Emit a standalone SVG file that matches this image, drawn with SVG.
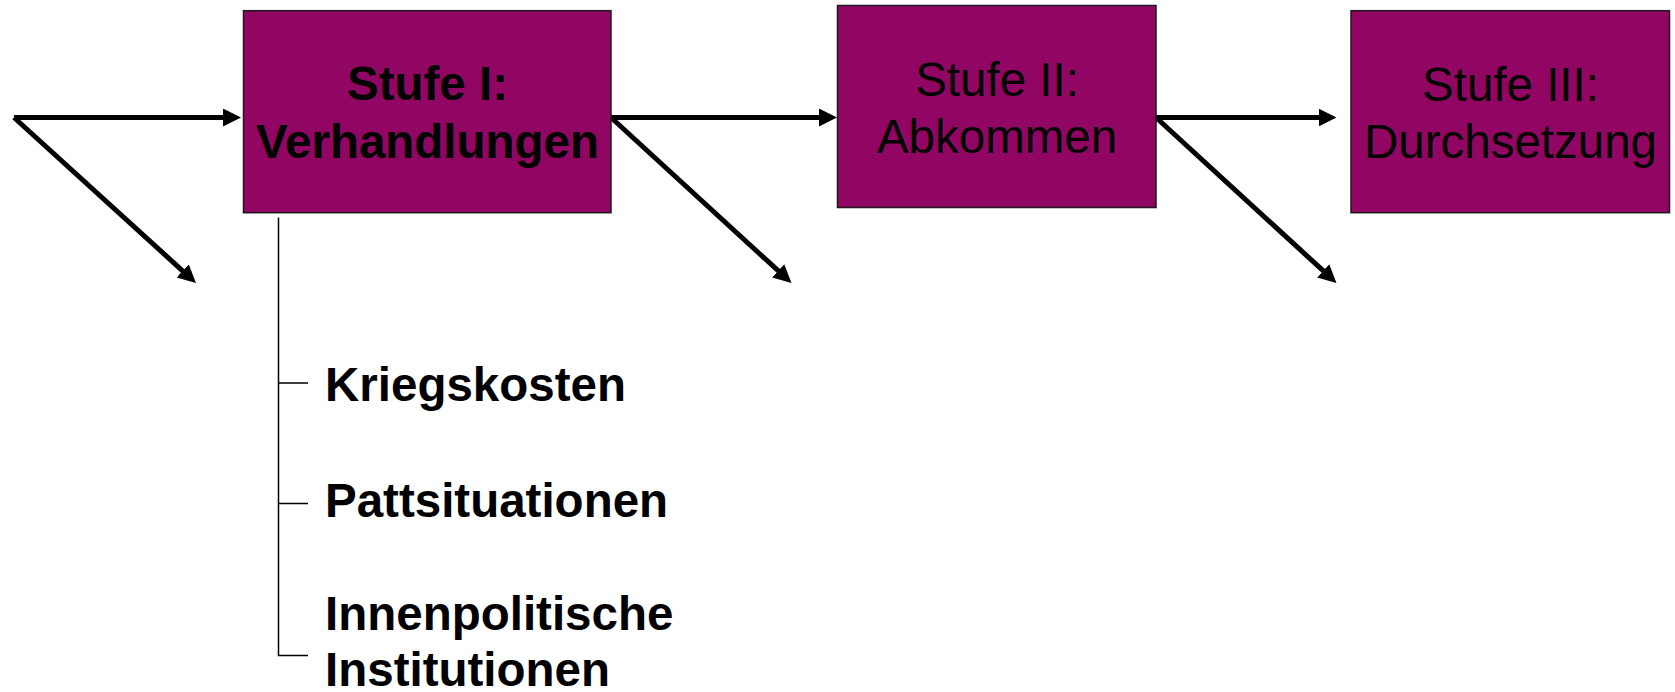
<svg xmlns="http://www.w3.org/2000/svg" width="1675" height="692" viewBox="0 0 1675 692">
<style>
.box{fill:#910663;stroke:#1a1a1a;stroke-width:1.5}
.t{font-family:"Liberation Sans",Arial,sans-serif;font-size:47.5px;fill:#000}
.c{text-anchor:middle}
.b{font-weight:bold}
.arr{stroke:#000;stroke-width:5;fill:none;marker-end:url(#ah)}
.thin{stroke:#000;stroke-width:1.5;fill:none}
</style>
<defs>
<marker id="ah" markerUnits="userSpaceOnUse" markerWidth="20" markerHeight="20" refX="8" refY="9" orient="auto">
<path d="M0,0 L18,9 L0,18 z" fill="#000"/>
</marker>
</defs>
<rect width="1675" height="692" fill="#fff"/>
<g id="connectors">
<line class="arr" x1="14" y1="117.5" x2="231" y2="117.5"/>
<line class="arr" x1="14" y1="117.5" x2="188.6" y2="276.3"/>
<line class="arr" x1="611" y1="117.5" x2="827" y2="117.5"/>
<line class="arr" x1="611" y1="117.5" x2="784.1" y2="276.2"/>
<line class="arr" x1="1156" y1="117.5" x2="1326.5" y2="117.5"/>
<line class="arr" x1="1156" y1="117.5" x2="1329.1" y2="276.2"/>
<path class="thin" d="M278.5,217.5 V655.5 H308 M278.5,383 H308 M278.5,503.5 H308"/>
</g>
<g id="stufe1">
<rect class="box" x="243.5" y="10.7" width="367.5" height="202"/>
<text class="t b c" x="427.5" y="100">Stufe I:</text>
<text class="t b c" x="427.5" y="158">Verhandlungen</text>
</g>
<g id="stufe2">
<rect class="box" x="837.5" y="5.5" width="318.5" height="202"/>
<text class="t c" x="997" y="95.5">Stufe II:</text>
<text class="t c" x="997" y="152.5">Abkommen</text>
</g>
<g id="stufe3">
<rect class="box" x="1351" y="10.7" width="318.5" height="202"/>
<text class="t c" x="1510.5" y="100.5">Stufe III:</text>
<text class="t c" x="1510.5" y="158">Durchsetzung</text>
</g>
<g id="kriegskosten">
<text class="t b" x="325" y="401">Kriegskosten</text>
</g>
<g id="pattsituationen">
<text class="t b" x="325" y="517">Pattsituationen</text>
</g>
<g id="innenpolitische">
<text class="t b" x="325" y="630">Innenpolitische</text>
<text class="t b" x="325" y="686">Institutionen</text>
</g>
</svg>
